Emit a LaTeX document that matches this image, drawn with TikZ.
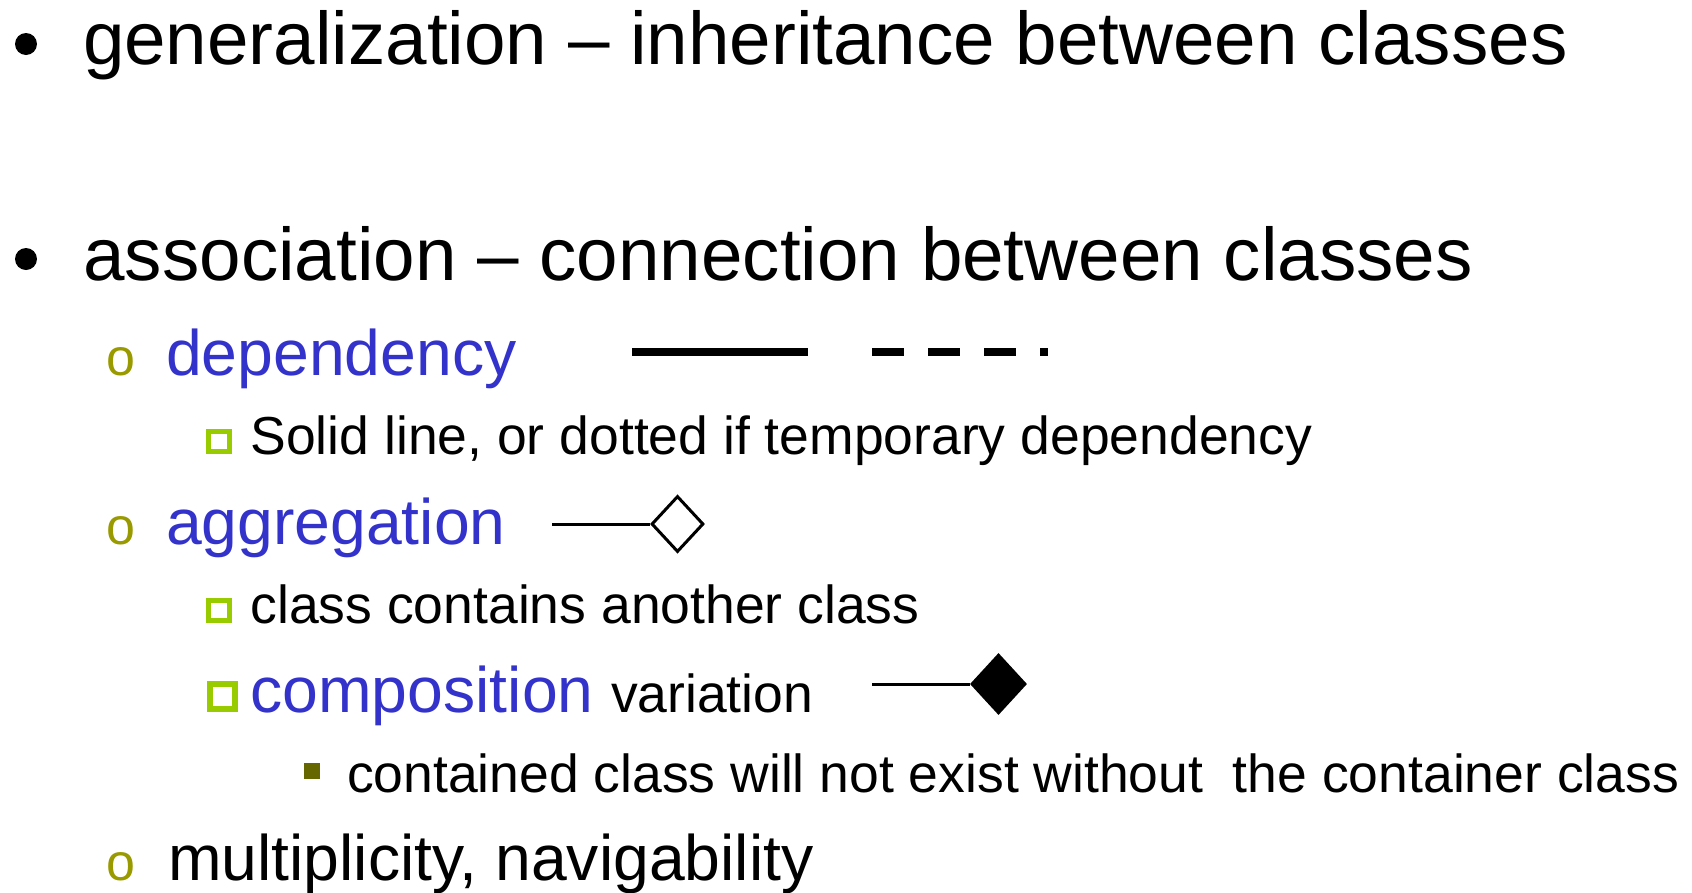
\documentclass[tikz,border=0pt]{standalone}
\usepackage{fontspec}
\setmainfont{Liberation Sans}
\usetikzlibrary{shapes.geometric}
\definecolor{topicblue}{HTML}{3333CC}
\definecolor{subbullet}{HTML}{999900}
\definecolor{boxbullet}{HTML}{99CC00}
\definecolor{smallbullet}{HTML}{666600}
\begin{document}
\begin{tikzpicture}[x=1pt,y=-1pt,
  txt/.style={anchor=base west, inner sep=0pt, outer sep=0pt},
  lvlA/.style={txt, font=\fontsize{74.6}{80}\selectfont},
  lvlB/.style={txt, font=\fontsize{64.3}{70}\selectfont},
  lvlC/.style={txt, font=\fontsize{53.5}{60}\selectfont},
  obullet/.style={txt, text=subbullet, font=\fontsize{52}{56}\selectfont},
  boxA/.style={draw=boxbullet, line width=4.6pt},
  boxB/.style={draw=boxbullet, line width=6pt},
  umlline/.style={line width=3pt},
  depline/.style={line width=8pt, line cap=butt},
  hollowdiamond/.style={diamond, draw=black, line width=3pt, fill=white, inner sep=0pt},
  soliddiamond/.style={diamond, fill=black, inner sep=0pt}
]
\useasboundingbox (0,0) rectangle (1692,892);

% top-level bullets
\fill (26,44) circle[radius=11pt];
\fill (26,259) circle[radius=11pt];
\node[lvlA] (gen) at (83,64) {generalization – inheritance between classes};
\node[lvlA] (assoc) at (83.5,280) {association – connection between classes};

% dependency
\node[obullet] (ob1) at (106.5,375) {o};
\node[lvlB, text=topicblue] (dep) at (166,375) {dependency};
\coordinate (depA) at (632,352);
\coordinate (depB) at (808,352);
\coordinate (depC) at (872,352);
\coordinate (depD) at (1048,352);
\draw[depline] (depA) -- (depB);
\draw[depline, dash pattern=on 32pt off 24pt] (depC) -- (depD);
\draw[boxA] (208.3,431.3) rectangle (229.7,451.7);
\node[lvlC] (solid) at (250.5,454) {Solid line, or dotted if temporary dependency};

% aggregation
\node[obullet] (ob2) at (106.5,544) {o};
\node[lvlB, text=topicblue] (agg) at (166,544) {aggregation};
\coordinate (aggL) at (552,524);
\node[hollowdiamond, minimum width=52pt, minimum height=56pt] (aggD) at (677.5,524) {};
\draw[umlline] (aggL) -- (aggD.west);
\draw[boxA] (208.3,600.3) rectangle (229.7,620.7);
\node[lvlC] (contains) at (250.5,623) {class contains another class};

% composition
\draw[boxB] (210,684) rectangle (235,709);
\node[lvlB, text=topicblue] (comp) at (250.5,712) {composition};
\node[lvlC] (var) at (611,712) {variation};
\coordinate (compL) at (872,684);
\node[soliddiamond, minimum width=57pt, minimum height=62pt] (compD) at (998.5,684) {};
\draw[umlline] (compL) -- (compD.west);
\fill[smallbullet] (304,763) rectangle (320,779);
\node[lvlC] (contained) at (347,792) {contained class will not exist without \ the container class};

% multiplicity
\node[obullet] (ob3) at (106.5,880) {o};
\node[lvlB] (mult) at (168,880) {multiplicity, navigability};
\end{tikzpicture}
\end{document}
